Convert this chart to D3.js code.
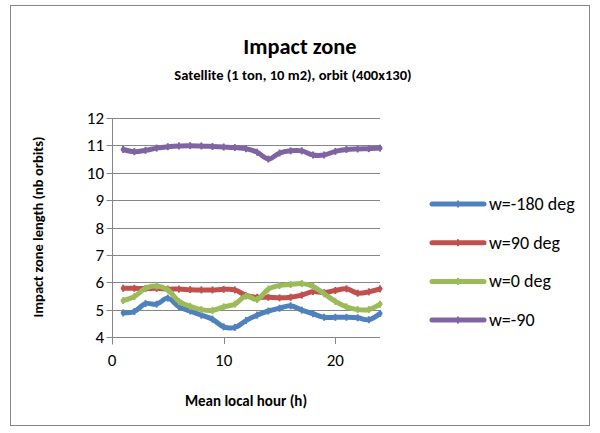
<!DOCTYPE html>
<html>
<head>
<meta charset="utf-8">
<script src="https://cdn.jsdelivr.net/npm/d3@7"></script>
<style>
  body { margin: 0; background: #fff; }
  text { font-family: Carlito, "Open Sans", "Liberation Sans", sans-serif; fill: #000; }
</style>
</head>
<body>
<script>
// hours of the day (x values)
var hours = [1,2,3,4,5,6,7,8,9,10,11,12,13,14,15,16,17,18,19,20,21,22,23,24];

// impact zone length per series
var w180 = [4.88,4.93,5.22,5.2,5.42,5.1,4.95,4.8,4.65,4.37,4.35,4.6,4.8,4.95,5.05,5.14,4.98,4.85,4.72,4.72,4.72,4.7,4.63,4.86];
var w90  = [5.78,5.78,5.77,5.78,5.75,5.75,5.73,5.72,5.72,5.74,5.72,5.52,5.45,5.45,5.43,5.45,5.53,5.66,5.62,5.7,5.76,5.6,5.65,5.76];
var w0   = [5.33,5.48,5.78,5.86,5.72,5.3,5.12,5.0,4.97,5.1,5.2,5.5,5.37,5.75,5.88,5.92,5.95,5.85,5.58,5.3,5.1,5.0,5.0,5.2];
var wm90 = [10.85,10.77,10.82,10.9,10.95,10.98,10.99,10.98,10.96,10.94,10.92,10.88,10.75,10.5,10.72,10.8,10.8,10.65,10.65,10.78,10.85,10.87,10.88,10.9];

var seriesNames = ["w=-180 deg", "w=90 deg", "w=0 deg", "w=-90"];
var seriesColors = ["#4F81BD", "#C0504D", "#9BBB59", "#8064A2"];
var yTicks = [4,5,6,7,8,9,10,11,12];
var xTicks = [0,10,20];

var allSeries = [w180, w90, w0, wm90];

var width = 600, height = 433;
var svg = d3.select("body").append("svg")
  .attr("width", width)
  .attr("height", height);

// chart border
svg.append("rect")
  .attr("x", 10.5).attr("y", 5.5)
  .attr("width", 579).attr("height", 420)
  .attr("fill", "#fff")
  .attr("stroke", "#868686");

var x = d3.scaleLinear().domain([0, 24]).range([112, 380]);
var y = d3.scaleLinear().domain([4, 12]).range([337, 118]);

// gridlines
svg.append("g").selectAll("line")
  .data(yTicks)
  .enter().append("line")
  .attr("x1", x(0)).attr("x2", x(24))
  .attr("y1", function(d) { return Math.round(y(d)) + 0.5; })
  .attr("y2", function(d) { return Math.round(y(d)) + 0.5; })
  .attr("stroke", "#868686");

// y axis (cross ticks)
var yAxis = svg.append("g").attr("transform", "translate(" + (x(0) + 0.5) + ",0.5)");
yAxis.append("line").attr("y1", y(12)).attr("y2", y(4) + 7).attr("stroke", "#868686");
yAxis.selectAll(".tk").data(yTicks).enter().append("line")
  .attr("x1", -6).attr("x2", 5)
  .attr("y1", function(d) { return Math.round(y(d)); })
  .attr("y2", function(d) { return Math.round(y(d)); })
  .attr("stroke", "#868686");
svg.append("g").selectAll("text").data(yTicks).enter().append("text")
  .attr("x", 104)
  .attr("y", function(d) { return y(d) + 6; })
  .attr("text-anchor", "end")
  .style("font-size", "17px")
  .text(function(d) { return d; });

// x axis
svg.append("line")
  .attr("x1", x(0)).attr("x2", x(24))
  .attr("y1", Math.round(y(4)) + 0.5).attr("y2", Math.round(y(4)) + 0.5)
  .attr("stroke", "#868686");
svg.append("g").selectAll("line").data(xTicks).enter().append("line")
  .attr("x1", function(d) { return Math.round(x(d)) + 0.5; })
  .attr("x2", function(d) { return Math.round(x(d)) + 0.5; })
  .attr("y1", y(4)).attr("y2", y(4) + 7)
  .attr("stroke", "#868686");
svg.append("g").selectAll("text").data(xTicks).enter().append("text")
  .attr("x", function(d) { return x(d); })
  .attr("y", 366)
  .attr("text-anchor", "middle")
  .style("font-size", "17px")
  .text(function(d) { return d; });

// series lines
var line = d3.line()
  .x(function(d, i) { return x(hours[i]); })
  .y(function(d) { return y(d); })
  .curve(d3.curveCatmullRom.alpha(0.5));

var lines = svg.append("g");
allSeries.forEach(function(s, k) {
  lines.append("path")
    .datum(s)
    .attr("d", line)
    .attr("fill", "none")
    .attr("stroke", seriesColors[k])
    .attr("stroke-width", 5)
    .attr("stroke-linejoin", "round")
    .attr("stroke-linecap", "round");
  lines.selectAll(".m" + k).data(s).enter().append("rect")
    .attr("x", function(d, i) { return x(hours[i]) - 1; })
    .attr("y", function(d) { return y(d) - 3.5; })
    .attr("width", 2).attr("height", 7)
    .attr("fill", seriesColors[k]);
});

// legend
var legend = svg.append("g");
seriesNames.forEach(function(n, k) {
  var ly = 204 + k * 38.7;
  legend.append("line")
    .attr("x1", 432).attr("x2", 484)
    .attr("y1", ly).attr("y2", ly)
    .attr("stroke", seriesColors[k])
    .attr("stroke-width", 5)
    .attr("stroke-linecap", "round");
  legend.append("rect")
    .attr("x", 457).attr("y", ly - 3.5).attr("width", 2).attr("height", 7)
    .attr("fill", seriesColors[k]);
  legend.append("text")
    .attr("x", 489).attr("y", ly + 6)
    .style("font-size", "18px")
    .text(n);
});

// titles
svg.append("text")
  .attr("x", 300).attr("y", 54)
  .attr("text-anchor", "middle")
  .style("font-size", "22.4px").style("font-weight", "bold")
  .text("Impact zone");
svg.append("text")
  .attr("x", 293).attr("y", 80)
  .attr("text-anchor", "middle")
  .style("font-size", "14.6px").style("font-weight", "bold")
  .text("Satellite (1 ton, 10 m2), orbit (400x130)");
svg.append("text")
  .attr("x", 246).attr("y", 406)
  .attr("text-anchor", "middle")
  .style("font-size", "15px").style("font-weight", "bold")
  .text("Mean local hour (h)");
svg.append("text")
  .attr("transform", "translate(43,227) rotate(-90)")
  .attr("text-anchor", "middle")
  .style("font-size", "14.5px").style("font-weight", "bold")
  .text("Impact zone length (nb orbits)");
</script>
</body>
</html>
